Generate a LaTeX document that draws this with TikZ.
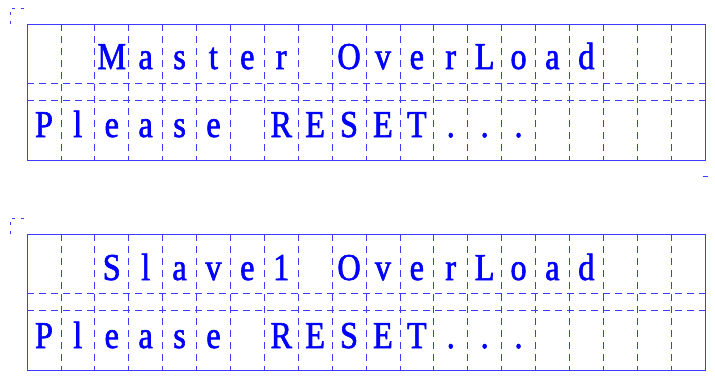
\documentclass[tikz,border=0pt]{standalone}
\usepackage{fontspec}
\setmainfont{Liberation Serif}
\newfontfamily\lcdfont[FakeStretch=0.85,FakeBold=1.6]{Liberation Serif}
\usetikzlibrary{positioning}
\definecolor{lcdtext}{RGB}{0,0,255}
\definecolor{lcdgrid}{RGB}{60,60,255}

\begin{document}
\begin{tikzpicture}[x=1pt, y=-1pt,
  lcdframe/.style={draw=lcdgrid, line width=0.9pt},
  lcddash/.style={draw=lcdgrid, line width=0.75pt, dash pattern=on 7pt off 5pt},
  cornermark/.style={draw=lcdgrid, line width=0.75pt, dash pattern=on 3pt off 6pt},
  lcdchar/.style={text=lcdtext, font=\lcdfont\fontsize{38}{38}\selectfont, anchor=base, inner sep=0pt}
]
\useasboundingbox (0,0) rectangle (715,380);

% two display panels, 20 cells wide
\foreach \dy in {0,210} {
  \begin{scope}[shift={(0,\dy)}]
    \draw[cornermark] (10,24) -- (10,8) -- (27,8);
    \draw[lcddash] (27,83) -- (705,83) (27,100) -- (705,100);
    \foreach \c in {1,...,19}
      \draw[lcddash] ({27+33.9*\c},24) -- ({27+33.9*\c},160);
    \draw[lcdframe] (27,24) rectangle (705,160);
  \end{scope}
}
\draw[lcdgrid, line width=0.75pt] (703,176) -- (708,176);

% first panel
\foreach \c/\ch in {2/M,3/a,4/s,5/t,6/e,7/r,9/O,10/v,11/e,12/r,13/L,14/o,15/a,16/d}
  \node[lcdchar] (mtop\c) at ({27+33.9*(\c+0.5)},69) {\ch};
\foreach \c/\ch in {0/P,1/l,2/e,3/a,4/s,5/e,7/R,8/E,9/S,10/E,11/T,12/.,13/.,14/.}
  \node[lcdchar] (mbot\c) at ({27+33.9*(\c+0.5)},137) {\ch};

% second panel
\foreach \c/\ch in {2/S,3/l,4/a,5/v,6/e,7/1,9/O,10/v,11/e,12/r,13/L,14/o,15/a,16/d}
  \node[lcdchar] (stop\c) at ({27+33.9*(\c+0.5)},280) {\ch};
\foreach \c/\ch in {0/P,1/l,2/e,3/a,4/s,5/e,7/R,8/E,9/S,10/E,11/T,12/.,13/.,14/.}
  \node[lcdchar] (sbot\c) at ({27+33.9*(\c+0.5)},348) {\ch};
\end{tikzpicture}
\end{document}
